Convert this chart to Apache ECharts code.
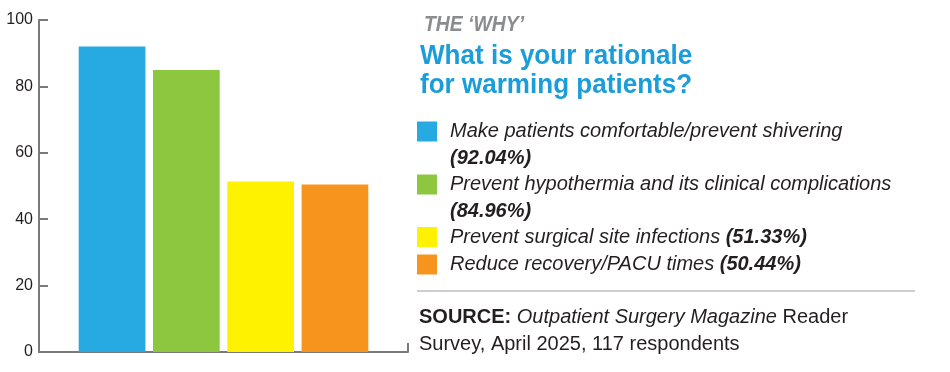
<!DOCTYPE html>
<html>
<head>
<meta charset="utf-8">
<script src="https://cdn.jsdelivr.net/npm/echarts@6/dist/echarts.min.js"></script>
<style>
html,body{margin:0;padding:0;background:#fff;}
#chart{width:950px;height:372px;}
</style>
</head>
<body>
<div id="chart"></div>
<script>
// ---- data ----
const categories = [
  'Make patients comfortable/prevent shivering',
  'Prevent hypothermia and its clinical complications',
  'Prevent surgical site infections',
  'Reduce recovery/PACU times'
];
const values = [92.04, 84.96, 51.33, 50.44];
const colors = ['#27a9e1', '#8dc63f', '#fff200', '#f7941d'];
const yTicks = [0, 20, 40, 60, 80, 100];
const kicker = 'THE \u2018WHY\u2019';
const titleLines = ['What is your rationale', 'for warming patients?'];
const sourceLabel = 'SOURCE:';
const sourcePub = 'Outpatient Surgery Magazine';
const sourceRest1 = 'Reader';
const sourceRest2 = 'Survey, April 2025, 117 respondents';

// ---- layout ----
const wrapValue = [true, true, false, false];
const LH = 26.5;
const iconTops = [121.5, 174.5, 227, 254.5];
const textColor = '#231f20';
const baseFont = 'Liberation Sans, Arial, sans-serif';

const series = categories.map((name, i) => ({
  name: name,
  type: 'bar',
  data: [values[i]],
  barWidth: 66.7,
  barGap: '11.4%',
  itemStyle: { color: colors[i] },
  emphasis: { disabled: true }
}));

const legends = categories.map((name, i) => {
  const wrap = wrapValue[i];
  const boxTop = wrap ? (10 - 1.5 * LH) : (10 - LH / 2);
  return {
    data: [name],
    left: 417,
    top: iconTops[i] + boxTop,
    padding: 0,
    icon: 'rect',
    itemWidth: 20,
    itemHeight: 20,
    selectedMode: false,
    formatter: function (n) {
      const pct = '(' + values[i].toFixed(2) + '%)';
      return '{n|' + n + '}' + (wrap ? '\n' : ' ') + '{b|' + pct + '}';
    },
    textStyle: {
      padding: [wrap ? LH : 0, 0, 0, 8],
      lineHeight: LH,
      fontFamily: baseFont,
      fontSize: 20,
      fontStyle: 'italic',
      color: textColor,
      rich: {
        n: { fontFamily: baseFont, fontSize: 20, fontStyle: 'italic', fontWeight: 'normal', color: textColor, lineHeight: LH },
        b: { fontFamily: baseFont, fontSize: 20, fontStyle: 'italic', fontWeight: 'bold', color: textColor, lineHeight: LH }
      }
    }
  };
});

const option = {
  animation: false,
  backgroundColor: '#ffffff',
  grid: { left: 39, top: 20, width: 369, height: 332, containLabel: false },
  xAxis: {
    type: 'category',
    data: [''],
    axisLine: { lineStyle: { color: '#7a7a7a', width: 2 } },
    axisTick: { show: true, inside: true, length: 9, lineStyle: { color: '#7a7a7a', width: 2 } },
    axisLabel: { show: false }
  },
  yAxis: {
    type: 'value',
    min: yTicks[0],
    max: yTicks[yTicks.length - 1],
    interval: yTicks[1] - yTicks[0],
    axisLine: { show: true, lineStyle: { color: '#7a7a7a', width: 2 } },
    axisTick: { show: true, inside: true, length: 9, lineStyle: { color: '#7a7a7a', width: 2 } },
    axisLabel: { margin: 6, fontFamily: baseFont, fontSize: 16, color: textColor },
    splitLine: { show: false }
  },
  legend: legends,
  title: [
    {
      text: '{b|' + sourceLabel + '} {i|' + sourcePub + '} {n|' + sourceRest1 + '}\n{n|' + sourceRest2 + '}',
      left: 419, top: 303.5, padding: 0,
      textStyle: {
        fontFamily: baseFont, fontSize: 20, fontWeight: 'normal', color: textColor, lineHeight: 27,
        rich: {
          b: { fontFamily: baseFont, fontSize: 20, fontWeight: 'bold', color: textColor, lineHeight: 27 },
          i: { fontFamily: baseFont, fontSize: 20, fontStyle: 'italic', fontWeight: 'normal', color: textColor, lineHeight: 27 },
          n: { fontFamily: baseFont, fontSize: 20, fontWeight: 'normal', color: textColor, lineHeight: 27 }
        }
      }
    }
  ],
  graphic: [
    {
      type: 'text', x: 424, y: 25.3, scaleX: 0.865, silent: true,
      style: { text: kicker, fontFamily: baseFont, fontSize: 22.4, fontWeight: 'bold', fontStyle: 'italic', fill: '#8a8c8e', verticalAlign: 'middle', align: 'left' }
    },
    {
      type: 'text', x: 420, y: 71.2, scaleX: 0.965, silent: true,
      style: { text: titleLines.join('\n'), fontFamily: baseFont, fontSize: 27, fontWeight: 'bold', fill: '#1b9dd9', lineHeight: 29, verticalAlign: 'middle', align: 'left' }
    },
    { type: 'line', shape: { x1: 417, y1: 291, x2: 915, y2: 291 }, style: { stroke: '#9d9d9d', lineWidth: 1 }, silent: true }
  ],
  series: series
};

const chart = echarts.init(document.getElementById('chart'), null, { renderer: 'canvas' });
chart.setOption(option);
</script>
</body>
</html>
